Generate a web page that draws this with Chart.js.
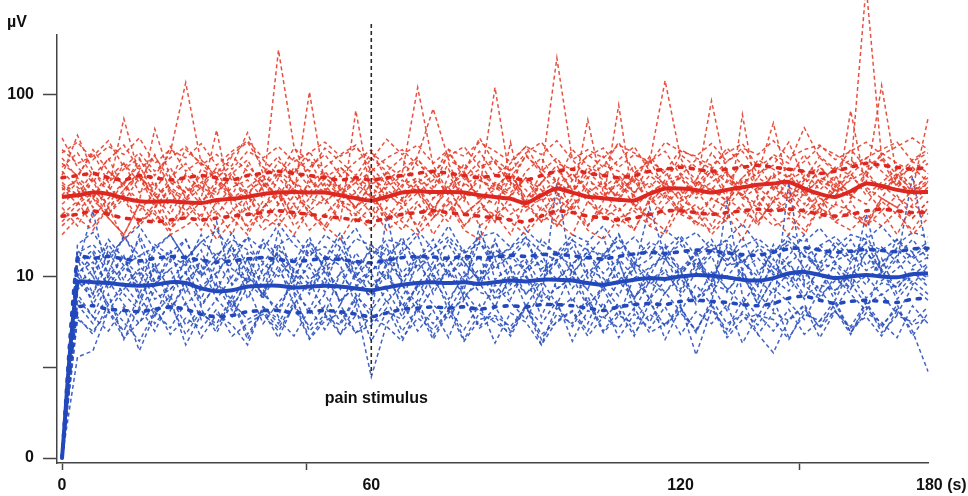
<!DOCTYPE html>
<html>
<head>
<meta charset="utf-8">
<script src="https://cdn.jsdelivr.net/npm/chart.js@4.4.1/dist/chart.umd.min.js"></script>
<style>
html,body{margin:0;padding:0;background:#fff;}
#wrap{width:968px;height:496px;position:relative;}
</style>
</head>
<body>
<div id="wrap"><canvas id="c" width="968" height="496"></canvas></div>
<script>
// time axis (s)
const times = [0,3,6,9,12,15,18,21,24,27,30,33,36,39,42,45,48,51,54,57,60,63,66,69,72,75,78,81,84,87,90,93,96,99,102,105,108,111,114,117,120,123,126,129,132,135,138,141,144,147,150,153,156,159,162,165,168];
const painTime = 60;
const painRange = [246, 2.87];
const xTickValues = [0, 47.5, 60, 120, 143, 168];
const xTickLabels = ['0', '', '60', '120', '', '      180 (s)'];
const xTickMarks = [true, true, false, false, true, false];
const yTickValues = [1, 3.162, 10, 100];
const yTickLabels = ['0', '', '10', '100'];

// red group: individual traces (µV)
const R1 = [58,40,33,45,30,38,26,35,42,31, 28,37,44,30,177,52,34,29,40,33, 27,38,45,31,36,28,42,34,30,39, 25,33,41,29,37,46,32,28,43,120, 45,31,38,27,35,42,30,36,29,40, 33,27,38,44,31,36,42];
const R2 = [36,60,38,29,42,33,47,30,26,39, 35,28,41,33,25,38,44,30,36,29, 40,32,37,110,41,29,35,43,31,27, 38,45,33,29,40,34,26,37,44,30, 35,28,39,33,42,30,36,27,34,41, 31,38,400,45,33,29,37];
const R3 = [27,33,24,30,74,36,28,22,31,25, 34,27,23,32,29,21,35,26,30,24, 33,28,25,31,22,36,27,30,110,33, 25,29,34,23,31,27,35,24,29,33, 26,30,23,34,28,25,32,27,36,24, 30,28,33,113,35,26,31];
const R4 = [45,35,50,38,32,44,36,48,117,42, 34,46,38,31,43,37,49,35,40,33, 45,38,31,44,36,50,34,39,43,32, 47,37,160,44,35,41,38,33,46,36, 42,34,48,37,31,44,39,35,47,33, 40,36,45,38,32,43,37];
const R5 = [22,26,19,24,28,20,25,18,23,27, 64,24,19,26,21,28,23,18,25,22, 27,20,24,29,21,26,19,23,28,22, 25,20,27,23,19,26,88,24,21,28, 22,25,19,27,23,20,26,22,29,21, 25,23,20,27,24,30,74];
const R6 = [31,25,34,22,29,36,24,31,27,21, 33,26,30,23,35,28,104,32,25,29, 22,34,27,31,24,20,33,28,25,35, 30,23,28,32,26,21,30,34,25,29, 23,31,93,36,27,24,32,26,30,22, 35,28,25,32,27,24,30];
const R7 = [19,23,28,21,17,25,20,29,23,18, 26,21,17,24,28,19,23,27,20,82, 28,22,18,25,21,27,19,24,22,17, 26,20,23,28,19,24,21,18,27,22, 25,19,23,20,78,26,21,17,24,28, 20,23,19,26,22,18,24];
const R8 = [40,48,36,44,53,39,46,34,50,42, 37,47,55,40,35,45,38,51,43,36, 48,41,35,46,84,44,39,49,36,42, 52,38,45,34,47,40,55,37,43,49, 36,44,39,51,41,35,47,42,66,45, 38,50,40,46,36,44,50];
const R9 = [25,30,21,27,33,23,29,19,26,31, 22,28,18,24,30,21,27,25,32,23, 20,29,24,19,27,31,22,26,20,28, 24,33,21,27,73,29,23,28,19,25, 30,22,27,24,31,20,26,29,22,27, 24,82,30,23,28,21,26];
const R10 = [33,28,38,31,26,35,30,40,27,33, 29,36,25,31,38,33,27,35,30,24, 32,37,29,34,27,31,38,26,33,29, 35,28,32,37,30,26,34,29,36,31, 27,33,30,38,28,35,31,26,33,37, 29,34,38,30,35,40,33];
const R11 = [50,42,46,56,40,48,38,45,52,41, 47,39,49,44,36,51,43,40,47,53, 38,45,50,41,37,46,52,40,44,38, 48,55,42,39,46,51,40,47,43,38, 50,45,41,48,54,40,46,38,43,52, 47,41,45,50,55,43,48];
const R12 = [17,21,18,24,16,20,23,17,19,22, 16,20,24,18,21,17,23,19,16,22, 18,24,20,17,21,25,18,16,23,20, 17,22,19,24,18,16,21,23,19,17, 24,20,18,22,16,23,19,21,17,24, 20,18,22,19,23,17,21];
const R13 = [28,35,30,25,33,41,28,32,36,26, 31,38,29,34,27,40,31,36,28,33, 38,26,32,35,30,42,28,34,31,37, 27,33,39,30,35,28,32,41,27,34, 36,29,33,38,27,31,35,40,29,34, 30,37,28,33,39,31,35];
const R14 = [38,31,27,35,42,29,33,24,37,30, 40,34,28,36,31,25,33,38,30,35, 27,31,36,29,34,39,26,37,32,28, 35,30,25,34,38,31,36,29,33,27, 37,32,40,29,35,31,26,34,38,30, 36,28,33,31,37,29,34];
const R15 = [42,36,48,33,39,45,31,52,38,44, 35,41,62,37,46,32,40,47,36,43, 50,34,39,45,31,48,37,58,42,35, 46,39,33,50,41,36,44,52,38,32, 47,40,35,43,49,37,41,55,34,46, 39,44,36,48,42,38,45];
const R16 = [24,19,27,21,17,25,22,18,26,20, 23,17,28,21,19,25,18,22,27,20, 24,18,21,26,17,23,28,19,22,25, 18,24,20,17,26,22,19,25,21,18, 27,23,17,21,25,19,28,22,18,24, 21,26,19,23,17,25,22];
const R17 = [30,34,27,38,32,26,65,35,29,33, 38,27,31,36,25,33,29,37,31,27, 35,30,26,33,38,28,32,36,27,31, 34,26,30,37,29,33,27,35,31,38, 28,34,30,26,33,37,70,31,28,35, 32,27,36,30,34,28,33];
const R18 = [48,55,44,52,47,58,42,50,45,54, 41,49,56,45,52,43,48,55,46,51, 44,57,47,53,42,50,46,55,49,43, 52,47,56,44,50,45,53,48,42,55, 49,46,54,43,51,47,56,45,50,53, 44,49,55,47,52,58,50];
const R19 = [32,27,35,24,30,37,26,33,29,36, 25,31,34,27,37,30,24,33,28,35, 31,26,34,29,23,32,36,27,30,34, 26,37,29,24,33,31,28,36,25,32, 35,27,31,26,34,29,37,30,25,33, 28,35,31,27,36,30,32];
const R20 = [20,25,29,22,27,19,24,30,21,26, 18,23,28,20,25,31,22,19,26,24, 29,21,27,18,24,30,22,26,20,55, 23,27,19,25,29,21,24,18,26,31, 22,20,27,24,19,28,23,26,21,25, 30,22,19,27,24,21,26];
// red group: mean and ±SD
const redMean = [27.4,28.0,29.0,28.5,27.0,26.0,25.8,26.0,25.6,25.4, 26.4,26.8,27.5,28.5,29.0,29.2,29.0,29.0,28.0,27.0, 26.2,27.5,29.0,29.5,29.2,29.2,29.0,28.0,27.4,26.8, 25.4,28.0,30.5,29.0,27.5,27.0,26.5,26.2,28.5,30.5, 30.5,30.0,29.0,30.0,31.0,32.0,32.5,33.2,30.5,28.5, 27.4,29.5,32.5,31.5,30.0,29.2,29.2];
const redUpper = [35,36,37,35,34,36,35,34,35,36, 35,34,36,37,38,37,36,35,34,35, 34,35,36,37,38,37,36,35,36,35, 34,36,38,39,37,36,35,36,38,39, 40,39,38,39,40,41,40,39,38,37, 38,40,42,41,40,39,40];
const redLower = [21.5,22,23,22,21,20.5,20,20.5,21,20.5, 21,21.5,22,22.5,23,22.5,22,21.5,21,20.5, 20,21,22,22.5,23,22.5,22,21.5,21,20.5, 20,21.5,23,22.5,21.5,21,20.5,21,22,23, 23,22.5,22,22.5,23,23.5,23,23.5,23,22, 21.5,22,23,23.5,23,22.5,22.5];

// blue group: individual traces (µV)
const B1 = [1,11.5,23,9.5,13,7.5,11,14,8,12.5, 10,15,7.5,11,13.5,8.5,12,9,14.5,10, 7.5,12,9.5,13,8,11.5,14,9,12.5,7.5, 11,13.5,8.5,10,14,9,12,7.5,11,13, 8.5,12,9.5,14.5,10,7.5,12.5,9,13,11, 8,12,14,9.5,11,13.5,10];
const B2 = [1,3.6,3.9,6.5,5,8,5.5,7,4.8,6.5, 5.2,7.5,4.5,6.8,5.5,8,5,6.2,4.8,7, 2.8,5.5,7.2,5,6.5,4.6,7.5,5.3,6.8,5, 7,4.5,6.2,5.5,7.8,5,6.5,4.7,7.2,5.3, 6.8,4.9,7.5,5.5,6.2,4.8,3.8,5.8,7,5.2, 6.5,4.8,7.2,5.4,6.6,5,3.0];
const B3 = [1,10,13.5,8.5,11,16,9,12.5,10.5,14, 8.5,12,16.5,10,13,9.5,15,11,8.5,13.5, 10.5,14.5,9,12.5,16,10,13,9.5,15.5,11, 12.5,9,14,10.5,13,16.5,9.5,12,10,14.5, 11,13.5,9,15,12,10,14,11.5,9.5,15, 12,10,13.5,11,16,12.5,14];
const B4 = [1,12.5,8,14,9.5,17,11,7.5,13,10, 20,9,12.5,7.5,15,10.5,8,13,11.5,7, 12,9.5,14.5,8,11,13,7.5,10,16,9, 12,7.5,32.6,10,8.5,13.5,9,11,7.5,12.5, 10,14,8,11.5,13,9,15,10,7.5,12, 11,8.5,14,10,12.5,9,11.5];
const B5 = [1,9,11,6.5,8.5,10.5,6,9.5,12,7, 9,6.5,10,8,11.5,7,9.5,6.2,10.5,8, 6,21.7,9,7,10.5,6.5,9,11,7.5,8.5, 10,6,9.5,11.5,7,8.5,6,10,7.5,9.5, 11,7,9,6.5,10.5,8,6.5,33,9,7.5, 10,8,6.5,11,7.5,9.5,8];
const B6 = [1,13,10,15,11.5,9,14,12,16,10.5, 13.5,11,9.5,15.5,12,10,14,11.5,16.5,10, 12.5,15,10.5,13,11,16,12,9.5,14,12.5, 15.5,11,13,16,10.5,12.5,14.5,11,24,13, 15,11.5,14,12,16.5,10.5,13.5,15,11,14, 12.5,16,11.5,14.5,12,35.7,13];
const B7 = [1,8,6,9.5,7,5.5,8.5,6.5,9,5.8, 7.5,6,8.8,5.5,7.2,9,6.2,8,5.6,7.8, 6.5,8.5,6,9.2,7,5.8,8.2,6.4,9,7.2, 5.8,8.4,6.6,7.6,5.5,8.8,6.8,7.4,5.6,8.2, 6.4,9,7,26,7.8,6,8.6,7.2,5.8,8.4, 6.6,9.2,7,8,6.2,8.8,7.4];
const B8 = [1,11,7,10,13,8,12,6.5,9.5,11.5, 7.5,10,13.5,8.5,6,11,9,12.5,7,10.5, 8,11.5,6.5,9,12,7.5,10,13,8,11, 6.8,9.5,12,7.2,10.5,8.5,12.5,6.5,9.5,11, 7.8,10.5,13,8.2,11,7,9.8,12,8.8,10.6, 7.4,11.2,9,12.6,8,10.2,11.8];
const B9 = [1,7,5.5,8,4.5,6.8,5,7.5,4.2,6.2, 5.5,7.8,4.8,6.5,5.2,7.2,4.6,6,5.4,7.6, 4.4,6.4,5.8,7.4,4.7,6.6,5.1,7,4.3,6.3, 5.6,4.2,6.9,5.3,7.3,4.9,6.1,5.5,7.7,4.5, 6.7,5,7.1,4.8,6.4,5.4,7.5,4.6,6.2,5.7, 7.4,4.9,6.8,5.2,7,4.7,6.3];
const B10 = [1,10.5,12,9,11.5,13,9.5,11,12.5,8.8, 10.5,13.5,9.2,11.8,10,12.8,9.6,11.2,13.2,9.4, 10.8,12.4,9.8,11.6,13.4,10.2,12,9.4,11.4,13, 10.6,12.2,9.6,11.8,13.6,10.4,12.6,9.8,11.2,13.2, 10.8,12.4,10,13.8,11,12.6,10.2,11.8,14,10.6, 12.2,13.4,10.8,12,14.2,11.4,12.8];
const B11 = [1,15,17.5,13,16,19,14,17,12.5,15.5, 18,13.5,16.5,14,19.5,15,12.8,17,14.5,18.5, 13,16,15,18,14,19,13.5,16.5,17.5,14.5, 18,15,13.5,17,15.5,19,14,16.5,13,18, 15.5,17.5,14,16,19.5,15,13.5,17,15.5,18.5, 14.5,17,16,19,15,17.5,16.5];
const B12 = [1,9.5,7.5,10.5,8,6.5,9,11,7,8.5, 10,6.8,9.4,7.6,10.8,8.2,6.6,9.8,7.4,8.8, 10.4,7.2,9,6.4,8.6,10.6,7.8,9.2,6.8,10.2, 8,9.6,7,10.8,8.4,6.6,9.4,7.6,10,8.2, 9.8,7.4,10.6,8.6,7,9.6,8,10.8,7.8,9, 8.4,10.2,7.6,9.2,8.8,10.4,9.4];
const B13 = [1,6,4.8,7,5.6,4.4,6.4,5.2,7.2,4.6, 6.2,5.4,4.2,6.8,5.8,4.7,6.6,5.1,7,4.9, 6,5.3,4.4,6.7,5.5,7.1,4.5,6.3,5.6,4.9, 6.9,4.2,5.7,6.5,5,7.2,4.6,6.2,5.2,6.8, 4.8,6.4,5.5,7,4.3,6.1,5.8,4.5,6.6,5.3, 7.1,4.9,6.3,5.6,4.6,6.9,5.5];
const B14 = [1,12,14,10.5,17,11.5,9,13.5,16,10, 12.5,17.5,11,9.5,14,12,16.5,10.5,13,9.8, 15,11.5,13.5,17,10,12.5,9.5,15.5,11,13, 16.5,10.5,12,14.5,9.8,13,17,11,12.5,15, 10,13.5,16,11.5,12,14,10.5,13,17,11, 14.5,12,15.5,10.5,13,16,12.5];
const B15 = [1,8.5,10,7,9,11,7.5,8.5,10.5,6.8, 9.2,7.4,10.2,8,6.6,9.6,8.4,10.8,7.2,9, 7.8,10.4,6.9,8.8,9.8,7.1,10.6,8.2,7.6,9.4, 10.2,7.3,8.6,9.9,6.8,8.9,10.5,7.7,9.3,8.1, 10.7,7.5,9.1,8.4,10.3,7,9.7,8.3,10.9,7.8, 9.5,8.7,10.1,7.9,9.2,10.6,8.8];
const B16 = [1,7.5,6,5,6.8,3.9,6.2,7.8,5.4,6.6, 4.9,7.2,5.8,6.4,4.6,7,5.3,6.9,4.8,6.1, 5.6,7.4,5,6.7,4.5,6.3,7.6,5.2,6,4.7, 6.8,5.5,7.3,4.4,6.5,5.9,7.1,4.9,6.2,5.4, 7,3.7,6.6,5.1,7.4,4.8,6.3,5.7,6.9,4.6, 6.4,5.3,7.2,4.9,6.1,5.6,6.8];
const B17 = [1,13.5,15,12,16.5,13,14.5,17,12.5,15.5, 13,16,14,12,15,16.8,13.2,14.6,12.4,16.2, 14.8,13,15.6,12.6,14.2,16.6,13.4,15.2,12.8,14.4, 16.4,13.6,12.2,15.8,14,13.2,16,12.6,15.4,14.2, 16.8,13,15,12.4,14.6,16.2,13.8,15.6,12.8,14.8, 16.6,13.4,15.2,14,16,13.6,15.4];
const B18 = [1,10,8,12,9,7,11.5,8.5,10.5,7.5, 12,9,11,7.8,18,9.4,11.2,8.2,10.4,12.2, 8.8,10.6,7.6,11.8,9.2,10.8,8.4,19,9.6,11.4, 8,10.2,12.4,8.6,11,9.8,7.8,12,9,10.6, 8.2,11.6,9.4,10,12.6,8.8,11.2,9.6,10.8,8.4, 11.8,9.2,22,10.4,8.6,11,9.8];
const B19 = [1,5.8,5,6.4,4.6,5.6,6.8,4.8,5.9,5.2, 6.6,4.7,5.5,6.2,5,6.9,4.5,5.7,6.3,4.9, 5.4,6.7,4.6,5.9,5.1,6.5,4.4,5.8,6.1,5.3, 6.8,4.8,5.6,6.4,4.7,6,5.2,6.7,4.9,5.5, 6.3,5.1,6.9,4.6,5.8,6.2,5,6.6,4.8,5.7, 6.4,5.2,6,4.7,6.5,5.4,5.9];
const B20 = [1,14,11,16,12.5,10,15,13,11.5,17, 12,14.5,10.5,16,13,11,15.5,12.5,17.5,11, 14,12,16.5,10.8,13.5,15,11.2,17,12.8,14.2, 10.6,16,13.2,11.4,15.2,12.2,17.2,11.6,14.6,12.4, 16.2,10.8,13.8,15.8,12,14.8,11.2,16.4,13,11.8, 15.6,12.6,17,11.4,14.4,12.8,15];
// blue group: mean and ±SD
const blueMean = [1,9.2,9.3,9.2,9.0,8.9,9.0,9.3,9.2,8.6, 8.3,8.4,8.8,8.9,8.9,8.7,8.8,8.9,8.8,8.6, 8.4,8.7,9.0,9.2,9.3,9.2,9.3,9.1,9.3,9.5, 9.4,9.6,9.6,9.5,9.2,9.0,9.3,9.6,9.8,9.7, 10.0,10.2,10.1,9.9,9.6,9.5,9.8,10.4,10.6,10.2, 9.8,10.0,10.2,10.0,9.9,10.3,10.4];
const blueUpper = [1,12.8,12.6,12.9,12.5,12.2,12.6,12.9,12.7,12.3, 12.0,12.2,12.5,12.7,12.4,12.1,12.3,12.6,12.4,12.1, 11.9,12.3,12.7,12.9,12.8,12.6,12.9,12.7,12.8,13.1, 12.9,13.2,13.3,13.0,12.7,12.5,12.9,13.3,13.6,13.4, 13.7,14.0,13.8,13.5,13.2,13.1,13.6,14.2,14.4,14.0, 13.6,13.8,14.1,13.9,13.7,14.2,14.3];
const blueLower = [1,6.7,6.9,6.6,6.5,6.4,6.6,6.8,6.6,6.2, 6.0,6.1,6.4,6.5,6.5,6.3,6.4,6.5,6.4,6.2, 6.0,6.3,6.6,6.7,6.8,6.7,6.8,6.6,6.8,6.9, 6.8,7.0,7.0,6.9,6.7,6.5,6.8,7.0,7.1,7.0, 7.3,7.4,7.3,7.2,7.0,6.9,7.1,7.6,7.8,7.4, 7.1,7.3,7.4,7.3,7.2,7.5,7.6];

const redTraces = [R1,R2,R3,R4,R5,R6,R7,R8,R9,R10,R11,R12,R13,R14,R15,R16,R17,R18,R19,R20];
const blueTraces = [B1,B2,B3,B4,B5,B6,B7,B8,B9,B10,B11,B12,B13,B14,B15,B16,B17,B18,B19,B20];

const RED_THIN = 'rgba(228,62,44,0.9)';
const RED_BOLD = 'rgb(221,40,34)';
const BLUE_THIN = 'rgba(46,82,188,0.9)';
const BLUE_BOLD = 'rgb(34,72,188)';

function pts(arr){ return arr.map((y,i)=>({x:times[i], y:y})); }
function thin(arr,color){
  return {data:pts(arr), borderColor:color, borderWidth:1.5, borderDash:[4,3], pointRadius:0, tension:0, clip:false, order:3};
}
function sd(arr,color){
  return {data:pts(arr), borderColor:color, borderWidth:3.6, borderDash:[3,8], borderCapStyle:'round', pointRadius:0, tension:0.2, clip:false, order:2};
}
function mean(arr,color){
  return {data:pts(arr), borderColor:color, borderWidth:4, pointRadius:0, tension:0.25, clip:false, order:1};
}

const datasets = [];
redTraces.forEach(a=>datasets.push(thin(a,RED_THIN)));
blueTraces.forEach(a=>datasets.push(thin(a,BLUE_THIN)));
datasets.push(sd(redUpper,RED_BOLD), sd(redLower,RED_BOLD), sd(blueUpper,BLUE_BOLD), sd(blueLower,BLUE_BOLD));
datasets.push(mean(redMean,RED_BOLD), mean(blueMean,BLUE_BOLD));
datasets.push({data:[{x:painTime,y:painRange[0]},{x:painTime,y:painRange[1]}], borderColor:'#2a2a2a', borderWidth:1.6, borderDash:[4,3], pointRadius:0, clip:false, order:0});

const FONT = {family:'"Liberation Sans", Arial, sans-serif', size:16, weight:'bold'};

const textPlugin = {
  id:'texts',
  afterDraw(chart){
    const ctx = chart.ctx;
    ctx.save();
    ctx.fillStyle = '#111';
    ctx.font = 'bold 16px "Liberation Sans", Arial, sans-serif';
    ctx.textAlign = 'left';
    ctx.textBaseline = 'alphabetic';
    ctx.fillText('µV', 7, 27);
    const px = chart.scales.x.getPixelForValue(painTime);
    ctx.textAlign = 'center';
    ctx.fillText('pain stimulus', px + 5, 403);
    ctx.restore();
  }
};

new Chart(document.getElementById('c'), {
  type:'line',
  data:{datasets:datasets},
  options:{
    responsive:false,
    animation:false,
    events:[],
    layout:{padding:{top:35, right:40, left:0, bottom:0}},
    plugins:{legend:{display:false}, tooltip:{enabled:false}},
    scales:{
      x:{
        type:'linear', min:-0.97, max:168,
        border:{color:'#444', width:1.5},
        grid:{drawOnChartArea:false, drawTicks:true, tickLength:7, tickWidth:1.5,
              tickColor:(c)=> xTickMarks[c.index] ? '#444' : 'rgba(0,0,0,0)'},
        afterBuildTicks:(s)=>{ s.ticks = xTickValues.map(v=>({value:v})); },
        afterFit:(s)=>{ s.height = 33; s.paddingLeft = 0; s.paddingRight = 0; },
        ticks:{autoSkip:false, maxRotation:0, padding:6, color:'#111', font:FONT,
               callback:(v,i)=> xTickLabels[i]}
      },
      y:{
        type:'logarithmic', min:0.939, max:214,
        border:{color:'#444', width:1.5},
        grid:{drawOnChartArea:false, drawTicks:true, tickLength:14, tickWidth:1.5, tickColor:'#444'},
        afterBuildTicks:(s)=>{ s.ticks = yTickValues.map(v=>({value:v})); },
        afterFit:(s)=>{ s.width = 57; s.paddingTop = 0; s.paddingBottom = 0; },
        ticks:{autoSkip:false, padding:9, color:'#111', font:FONT,
               callback:(v,i)=> yTickLabels[i]}
      }
    }
  },
  plugins:[textPlugin]
});
</script>
</body>
</html>
